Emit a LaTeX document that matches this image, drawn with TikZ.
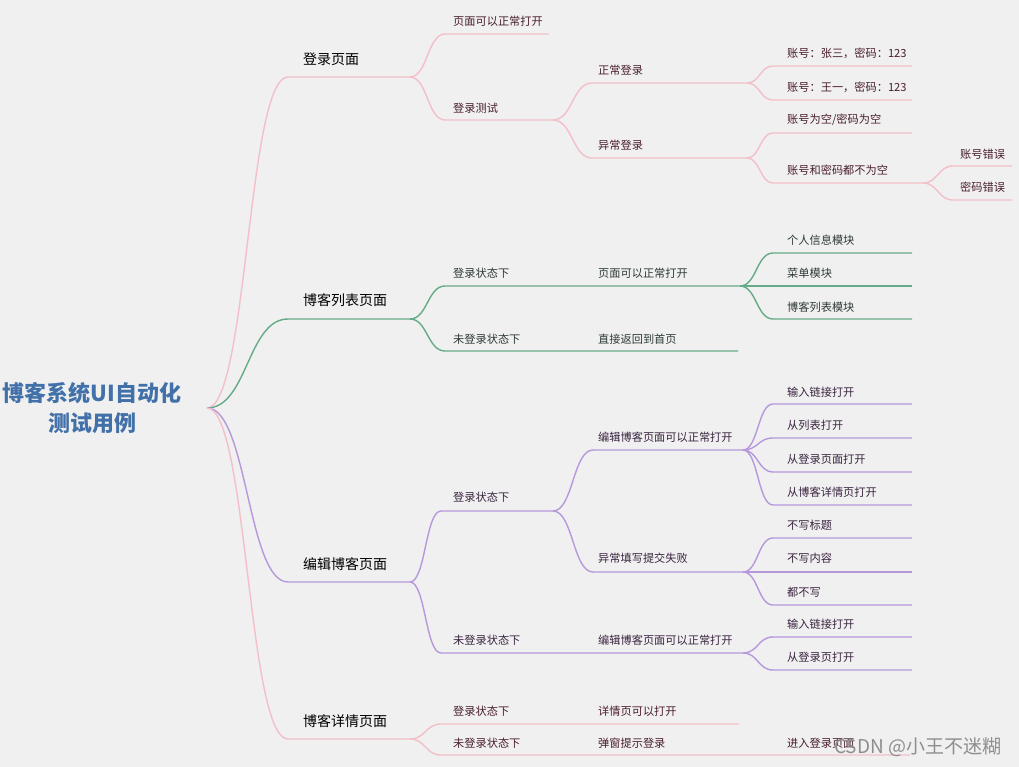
\documentclass[tikz,border=0pt]{standalone}
\usepackage{fontspec}
\setmainfont{Noto Sans CJK SC}
\usetikzlibrary{calc}
\definecolor{bg}{HTML}{F0F0F0}
\definecolor{pinkc}{HTML}{F3BFC9}
\definecolor{greenc}{HTML}{66AA88}
\definecolor{purplec}{HTML}{B698DC}
\definecolor{rootc}{HTML}{4271A9}
\definecolor{txtA}{HTML}{4A1E2C}
\definecolor{txtB}{HTML}{2E3A34}
\definecolor{txtC}{HTML}{3A2440}
\definecolor{wmc}{HTML}{8E8E8E}
\tikzset{
  lnA/.style={draw=pinkc, line width=1.4pt},
  lnB/.style={draw=greenc, line width=1.4pt},
  lnC/.style={draw=purplec, line width=1.4pt},
  lbl/.style={anchor=west, inner sep=0pt, font=\fontsize{11.2}{13}\selectfont},
  lblA/.style={lbl, text=txtA},
  lblB/.style={lbl, text=txtB},
  lblC/.style={lbl, text=txtC},
  topic/.style={anchor=west, inner sep=0pt, font=\fontsize{14}{16}\selectfont, text=black},
  rootnode/.style={align=center, inner sep=0pt, font=\fontsize{22}{30}\selectfont\bfseries, text=rootc},
  wm/.style={anchor=west, inner sep=0pt, font=\fontsize{19}{21}\selectfont, text=wmc},
}
\newcommand\mmbranch[3]{%
  \path ($(#2)!0.5!(#3s)$) coordinate (tmpm);
  \draw[#1] (#2) .. controls (tmpm |- #2) and (tmpm |- #3s) .. (#3s) -- (#3e);}
\begin{document}
\begin{tikzpicture}[x=1pt,y=-1pt]
\useasboundingbox (0,0) rectangle (1019,767);
\fill[bg] (0,0) rectangle (1019,767);

% root
\node[rootnode] (root) at (92,408) {博客系统UI自动化\\测试用例};
\coordinate (R) at (207,408);

% ---------- coordinates ----------
% A: 登录页面
\coordinate (As) at (288,77);   \coordinate (Ae) at (410,77);
\coordinate (A1s) at (445,34);  \coordinate (A1e) at (549,34);
\coordinate (A2s) at (445,120); \coordinate (A2e) at (553,120);
\coordinate (A21s) at (592,83); \coordinate (A21e) at (747,83);
\coordinate (A22s) at (592,158);\coordinate (A22e) at (747,158);
\coordinate (A211s) at (773,66); \coordinate (A211e) at (912,66);
\coordinate (A212s) at (773,100);\coordinate (A212e) at (912,100);
\coordinate (A221s) at (773,133);\coordinate (A221e) at (912,133);
\coordinate (A222s) at (773,183);\coordinate (A222e) at (923,183);
\coordinate (A2221s) at (953,166);\coordinate (A2221e) at (1012,166);
\coordinate (A2222s) at (953,200);\coordinate (A2222e) at (1012,200);
% B: 博客列表页面
\coordinate (Bs) at (288,319);  \coordinate (Be) at (410,319);
\coordinate (B1s) at (445,286); \coordinate (B1e) at (740,286);
\coordinate (B2s) at (445,351); \coordinate (B2e) at (738,351);
\coordinate (B11s) at (773,253);\coordinate (B11e) at (912,253);
\coordinate (B12s) at (773,286);\coordinate (B12e) at (912,286);
\coordinate (B13s) at (773,319);\coordinate (B13e) at (912,319);
% C: 编辑博客页面
\coordinate (Cs) at (288,582);  \coordinate (Ce) at (410,582);
\coordinate (C1s) at (441,511); \coordinate (C1e) at (553,511);
\coordinate (C2s) at (441,653); \coordinate (C2e) at (743,653);
\coordinate (C11s) at (593,450);\coordinate (C11e) at (743,450);
\coordinate (C12s) at (593,572);\coordinate (C12e) at (743,572);
\coordinate (C111s) at (773,404);\coordinate (C111e) at (912,404);
\coordinate (C112s) at (773,438);\coordinate (C112e) at (912,438);
\coordinate (C113s) at (773,472);\coordinate (C113e) at (912,472);
\coordinate (C114s) at (773,505);\coordinate (C114e) at (912,505);
\coordinate (C121s) at (773,538);\coordinate (C121e) at (912,538);
\coordinate (C122s) at (773,572);\coordinate (C122e) at (912,572);
\coordinate (C123s) at (773,605);\coordinate (C123e) at (912,605);
\coordinate (C21s) at (773,637);\coordinate (C21e) at (912,637);
\coordinate (C22s) at (773,670);\coordinate (C22e) at (912,670);
% D: 博客详情页面
\coordinate (Ds) at (288,739);  \coordinate (De) at (410,739);
\coordinate (D1s) at (441,724); \coordinate (D1e) at (739,724);
\coordinate (D2s) at (441,755); \coordinate (D2e) at (910,755);

% ---------- connectors ----------
\mmbranch{lnA}{R}{A}
\mmbranch{lnB}{R}{B}
\mmbranch{lnC}{R}{C}
\mmbranch{lnA}{R}{D}

\mmbranch{lnA}{Ae}{A1}
\mmbranch{lnA}{Ae}{A2}
\mmbranch{lnA}{A2e}{A21}
\mmbranch{lnA}{A2e}{A22}
\mmbranch{lnA}{A21e}{A211}
\mmbranch{lnA}{A21e}{A212}
\mmbranch{lnA}{A22e}{A221}
\mmbranch{lnA}{A22e}{A222}
\mmbranch{lnA}{A222e}{A2221}
\mmbranch{lnA}{A222e}{A2222}

\mmbranch{lnB}{Be}{B1}
\mmbranch{lnB}{Be}{B2}
\mmbranch{lnB}{B1e}{B11}
\mmbranch{lnB}{B1e}{B12}
\mmbranch{lnB}{B1e}{B13}

\mmbranch{lnC}{Ce}{C1}
\mmbranch{lnC}{Ce}{C2}
\mmbranch{lnC}{C1e}{C11}
\mmbranch{lnC}{C1e}{C12}
\mmbranch{lnC}{C11e}{C111}
\mmbranch{lnC}{C11e}{C112}
\mmbranch{lnC}{C11e}{C113}
\mmbranch{lnC}{C11e}{C114}
\mmbranch{lnC}{C12e}{C121}
\mmbranch{lnC}{C12e}{C122}
\mmbranch{lnC}{C12e}{C123}
\mmbranch{lnC}{C2e}{C21}
\mmbranch{lnC}{C2e}{C22}

\mmbranch{lnA}{De}{D1}
\mmbranch{lnA}{De}{D2}

% ---------- labels ----------
\node[topic] (tA) at (303,59) {登录页面};
\node[lblA] (tA1) at (453,21) {页面可以正常打开};
\node[lblA] (tA2) at (453,108) {登录测试};
\node[lblA] (tA21) at (598,70) {正常登录};
\node[lblA] (tA22) at (598,145) {异常登录};
\node[lblA] (tA211) at (787,53) {账号：张三，密码：123};
\node[lblA] (tA212) at (787,87) {账号：王一，密码：123};
\node[lblA] (tA221) at (787,120) {账号为空/密码为空};
\node[lblA] (tA222) at (787,170) {账号和密码都不为空};
\node[lblA] (tA2221) at (960,154) {账号错误};
\node[lblA] (tA2222) at (960,187) {密码错误};

\node[topic] (tB) at (303,300) {博客列表页面};
\node[lblB] (tB1) at (453,273) {登录状态下};
\node[lblB] (tB1b) at (598,273) {页面可以正常打开};
\node[lblB] (tB2) at (453,339) {未登录状态下};
\node[lblB] (tB2b) at (598,339) {直接返回到首页};
\node[lblB] (tB11) at (787,240) {个人信息模块};
\node[lblB] (tB12) at (787,273) {菜单模块};
\node[lblB] (tB13) at (787,307) {博客列表模块};

\node[topic] (tC) at (303,564) {编辑博客页面};
\node[lblC] (tC1) at (453,497) {登录状态下};
\node[lblC] (tC11) at (598,437) {编辑博客页面可以正常打开};
\node[lblC] (tC12) at (598,558) {异常填写提交失败};
\node[lblC] (tC111) at (787,392) {输入链接打开};
\node[lblC] (tC112) at (787,425) {从列表打开};
\node[lblC] (tC113) at (787,459) {从登录页面打开};
\node[lblC] (tC114) at (787,492) {从博客详情页打开};
\node[lblC] (tC121) at (787,525) {不写标题};
\node[lblC] (tC122) at (787,558) {不写内容};
\node[lblC] (tC123) at (787,592) {都不写};
\node[lblC] (tC2) at (453,640) {未登录状态下};
\node[lblC] (tC2b) at (598,640) {编辑博客页面可以正常打开};
\node[lblC] (tC21) at (787,624) {输入链接打开};
\node[lblC] (tC22) at (787,657) {从登录页打开};

\node[topic] (tD) at (303,721) {博客详情页面};
\node[lblA] (tD1) at (453,711) {登录状态下};
\node[lblA] (tD1b) at (598,711) {详情页可以打开};
\node[lblA] (tD2) at (453,743) {未登录状态下};
\node[lblA] (tD2b) at (598,743) {弹窗提示登录};
\node[lblA] (tD2c) at (787,743) {进入登录页面};

% watermark
\node[wm] (wmark) at (834,747) {CSDN @小王不迷糊};
\end{tikzpicture}
\end{document}
